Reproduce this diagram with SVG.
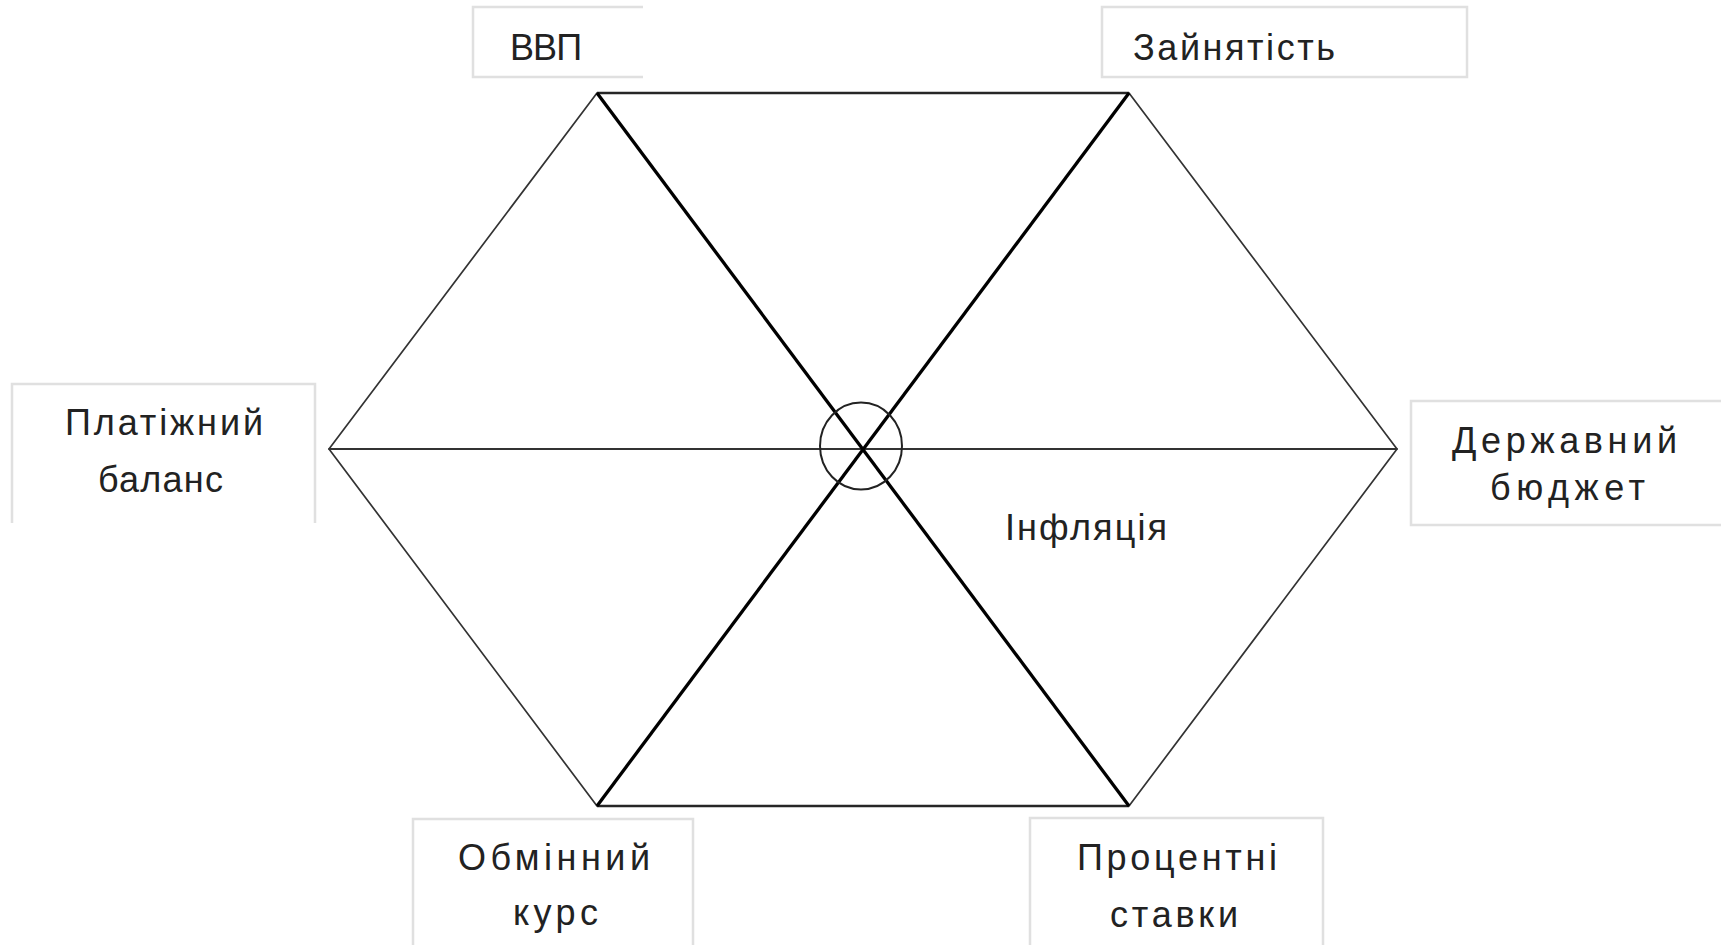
<svg xmlns="http://www.w3.org/2000/svg" width="1721" height="945" viewBox="0 0 1721 945">
  <style>
    .box { fill: #ffffff; stroke: #e0e0e0; stroke-width: 2.5; }
    .lbl { font-family: "Liberation Sans", "DejaVu Sans", sans-serif; font-size: 36px; fill: #222222; }
    .edge { stroke: #333333; stroke-width: 1.7; fill: none; stroke-linecap: round; }
    .rim { stroke: #262626; stroke-width: 2.6; fill: none; }
    .diag { stroke: #000000; stroke-width: 3.3; fill: none; }
    .mid { stroke: #333333; stroke-width: 2.2; fill: none; }
  </style>
  <rect x="0" y="0" width="1721" height="945" fill="#ffffff"/>

  <g id="connectors">
    <line class="edge" x1="597" y1="93" x2="329" y2="449"/>
    <line class="edge" x1="329" y1="449" x2="597" y2="806"/>
    <line class="edge" x1="1129" y1="93" x2="1397" y2="449"/>
    <line class="edge" x1="1397" y1="449" x2="1129" y2="806"/>
    <line class="rim" x1="597" y1="93" x2="1129" y2="93"/>
    <line class="rim" x1="597" y1="806" x2="1129" y2="806"/>
    <line class="mid" x1="329" y1="449" x2="1397" y2="449"/>
    <line class="diag" x1="597" y1="93" x2="1129" y2="806"/>
    <line class="diag" x1="1129" y1="93" x2="597" y2="806"/>
    <ellipse cx="861" cy="446" rx="41" ry="43.5" fill="none" stroke="#222222" stroke-width="2"/>
  </g>

  <g id="node-vvp">
    <path class="box" d="M643 7 H473 V77 H643"/>
    <text class="lbl" x="510" y="60" textLength="72" lengthAdjust="spacing">ВВП</text>
  </g>

  <g id="node-employment">
    <rect class="box" x="1102" y="7" width="365" height="70"/>
    <text class="lbl" x="1133" y="60" textLength="202" lengthAdjust="spacing">Зайнятість</text>
  </g>

  <g id="node-balance">
    <path class="box" d="M12 523 V384 H315 V523"/>
    <text class="lbl" x="65" y="435" textLength="198" lengthAdjust="spacing">Платіжний</text>
    <text class="lbl" x="98" y="492" textLength="125" lengthAdjust="spacing">баланс</text>
  </g>

  <g id="node-budget">
    <path class="box" d="M1725 401 H1411 V525 H1725"/>
    <text class="lbl" x="1452" y="453" textLength="225" lengthAdjust="spacing">Державний</text>
    <text class="lbl" x="1490" y="500" textLength="155" lengthAdjust="spacing">бюджет</text>
  </g>

  <g id="node-exchange">
    <path class="box" d="M413 950 V819 H693 V950"/>
    <text class="lbl" x="458" y="870" textLength="192" lengthAdjust="spacing">Обмінний</text>
    <text class="lbl" x="513" y="925" textLength="85" lengthAdjust="spacing">курс</text>
  </g>

  <g id="node-rates">
    <path class="box" d="M1030 950 V818 H1323 V950"/>
    <text class="lbl" x="1077" y="870" textLength="200" lengthAdjust="spacing">Процентні</text>
    <text class="lbl" x="1110" y="927" textLength="128" lengthAdjust="spacing">ставки</text>
  </g>

  <g id="node-inflation">
    <text class="lbl" x="1005" y="540" textLength="162" lengthAdjust="spacing">Інфляція</text>
  </g>
</svg>
